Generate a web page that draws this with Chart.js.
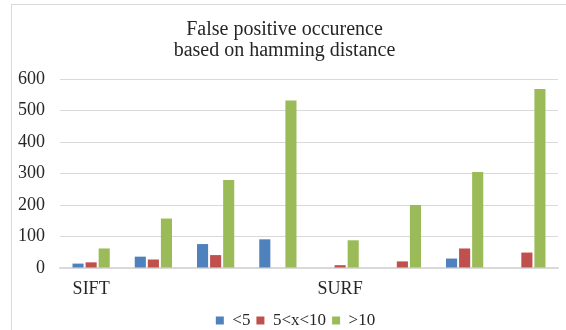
<!DOCTYPE html>
<html>
<head>
<meta charset="utf-8">
<script src="https://cdn.jsdelivr.net/npm/chart.js@4/dist/chart.umd.min.js"></script>
<style>
  html, body { margin: 0; padding: 0; background: #fff; overflow: hidden; width: 566px; height: 330px; }
  #marco {
    position: absolute; left: 11px; top: 4px; width: 600px; height: 400px;
    border-left: 1px solid #d9d9d9; border-top: 1px solid #d9d9d9;
  }
  #caja { position: absolute; left: 11px; top: 0; width: 562px; height: 339px; }
</style>
</head>
<body>
<div id="marco"></div>
<div id="caja"><canvas id="grafico"></canvas></div>
<script>
// ── Datos ─────────────────────────────────────
const categorias = ['SIFT', '', '', '', 'SURF', '', '', '']
const menor5     = [14, 36, 76, 91, 0, 0, 30, 0]
const entre5y10  = [18, 27, 41, 0, 9, 21, 62, 49]
const mayor10    = [62, 157, 279, 532, 88, 200, 305, 568]
const ticksY     = [0, 100, 200, 300, 400, 500, 600]

const fuente = "'Liberation Serif', 'Times New Roman', serif"
Chart.defaults.color = '#262626'
Chart.defaults.font.family = fuente

const serie = (label, data, color) => ({
  label, data,
  backgroundColor: color,
  borderWidth: 0,
  categoryPercentage: 0.63,
  barPercentage: 0.85
})

// la leyenda del original queda algo a la derecha del centro
const moverLeyenda = {
  id: 'moverLeyenda',
  afterLayout(chart) { chart.legend.left += 22 }
}

new Chart(document.getElementById('grafico'), {
  type: 'bar',
  data: {
    labels: categorias,
    datasets: [
      serie('<5', menor5, '#4f81bd'),
      serie('5<x<10', entre5y10, '#c0504d'),
      serie('>10', mayor10, '#9bbb59')
    ]
  },
  options: {
    responsive: true,
    maintainAspectRatio: false,
    animation: false,
    layout: { padding: { left: 0, right: 15, top: 0, bottom: 0 } },
    plugins: {
      title: {
        display: true,
        text: ['False positive occurence', 'based on hamming distance'],
        font: { size: 20, weight: 'normal', lineHeight: 1.05 },
        color: '#262626',
        padding: { top: 19, bottom: 18 }
      },
      legend: {
        position: 'bottom',
        labels: { boxWidth: 8, boxHeight: 8, font: { size: 17 }, padding: 6, color: '#262626' }
      },
      tooltip: { enabled: false }
    },
    scales: {
      x: {
        afterFit: (eje) => { eje.height = 38 },
        grid: { display: false, drawTicks: false },
        border: { color: '#d9d9d9', width: 1.5 },
        ticks: { font: { size: 18 }, padding: 10, autoSkip: false, maxRotation: 0 }
      },
      y: {
        min: 0, max: 600,
        afterFit: (eje) => { eje.width = 49 },
        afterBuildTicks: (eje) => { eje.ticks = ticksY.map(v => ({ value: v })) },
        grid: { color: '#d9d9d9', drawTicks: false },
        border: { display: false },
        ticks: { font: { size: 18 }, padding: 15 }
      }
    }
  },
  plugins: [moverLeyenda]
})
</script>
</body>
</html>
